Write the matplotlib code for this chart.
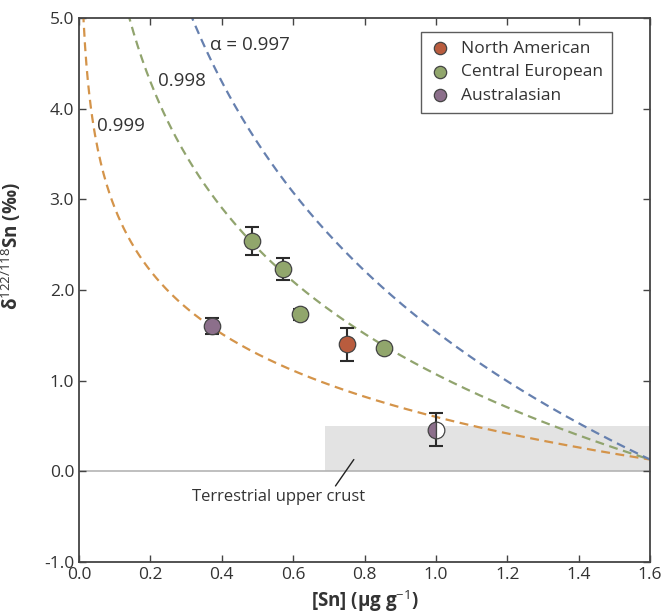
import numpy as np
import matplotlib.pyplot as plt
from matplotlib.patches import Rectangle

plt.rcParams['font.family'] = ['Open Sans', 'DejaVu Sans']
plt.rcParams['mathtext.fontset'] = 'custom'
plt.rcParams['mathtext.rm'] = 'Open Sans'
plt.rcParams['mathtext.bf'] = 'Open Sans:bold'

# Rayleigh model curves
alphas = [0.999, 0.998, 0.997]
alpha_labels = ['0.999', '0.998', 'α = 0.997']
curve_colors = ['#D4944A', '#91A46E', '#6680AF']
c0 = 1.6
d0 = 0.13

# samples
na_sn = [0.751]
na_d = [1.40]
na_err = [0.18]

ce_sn = [0.485, 0.572, 0.619, 0.855]
ce_d = [2.54, 2.23, 1.73, 1.36]
ce_err = [0.15, 0.12, 0.06, 0.03]

au_sn = [0.373]
au_d = [1.60]
au_err = [0.09]

mix_sn = [1.0]
mix_d = [0.46]
mix_err = [0.18]

crust_sn = [0.69, 1.6]
crust_d = [0.0, 0.5]

fig = plt.figure(figsize=(6.64, 6.15), dpi=100)
ax = fig.add_axes([0.119, 0.0862, 0.86, 0.8845])

ax.add_patch(Rectangle((crust_sn[0], crust_d[0]), crust_sn[1] - crust_sn[0],
                       crust_d[1] - crust_d[0], color='#E3E3E3', lw=0, zorder=0))
ax.axhline(0, color='#B4B4B4', lw=1.2, zorder=1)

c = np.linspace(0.005, c0, 400)
for a, col in zip(alphas, curve_colors):
    d = (d0 + 1000) * (c / c0) ** (a - 1) - 1000
    ax.plot(c, d, ls=(0, (4, 2.5)), color=col, lw=1.6, zorder=2)

lab_pos = [(0.05, 3.81), (0.22, 4.3), (0.367, 4.7)]
for (x, y), t in zip(lab_pos, alpha_labels):
    ax.text(x, y, t, fontsize=13.5, color='#333333', ha='left', va='center')

ek = dict(fmt='none', ecolor='#2b2b2b', elinewidth=1.5, capsize=5, capthick=1.5, zorder=3)
ax.errorbar(na_sn, na_d, yerr=na_err, **ek)
ax.errorbar(ce_sn, ce_d, yerr=ce_err, **ek)
ax.errorbar(au_sn, au_d, yerr=au_err, **ek)
ax.errorbar(mix_sn, mix_d, yerr=mix_err, **ek)

mk = dict(s=140, edgecolors='#444444', linewidths=0.9, zorder=4)
ax.scatter(na_sn, na_d, c='#B95C3E', label='North American', **mk)
ax.scatter(ce_sn, ce_d, c='#91A66C', label='Central European', **mk)
ax.scatter(au_sn, au_d, c='#8C6F8B', label='Australasian', **mk)
ax.plot(mix_sn, mix_d, 'o', ms=12, mfc='#8C6F8B', mfcalt='white', fillstyle='left',
        mec='#444444', mew=0.9, zorder=4)

ax.annotate('Terrestrial upper crust', xy=(0.77, 0.13), xytext=(0.558, -0.28),
            fontsize=12, color='#333333', ha='center', va='center',
            arrowprops=dict(arrowstyle='-', color='#222222', lw=1.0, shrinkA=0, shrinkB=0,
                            relpos=(0.82, 1.0)))

ax.set_xlim(0, 1.6)
ax.set_ylim(-1, 5)
ax.set_xticks(np.arange(0, 1.61, 0.2))
ax.set_yticks(np.arange(-1, 5.1, 1))
ax.xaxis.set_major_formatter(plt.FormatStrFormatter('%.1f'))
ax.yaxis.set_major_formatter(plt.FormatStrFormatter('%.1f'))
ax.tick_params(direction='in', top=True, right=True, length=5, width=1, labelsize=12.5,
               colors='#444444', labelcolor='#333333')
for s in ax.spines.values():
    s.set_color('#444444')
    s.set_linewidth(1.3)

ax.set_xlabel('[Sn] (μg g$^{\\mathrm{-1}}$)', fontsize=13.5, fontweight='bold', color='#333333', labelpad=4)
ax.set_ylabel('δ$^{\\mathrm{122/118}}$Sn (‰)', fontsize=13.5, fontweight='bold', color='#333333')
ax.yaxis.set_label_coords(-0.098, 0.58)

leg = ax.legend(loc='upper right', bbox_to_anchor=(0.948, 0.99), fontsize=12.5, frameon=True,
                fancybox=False, edgecolor='#333333', handletextpad=0.6, borderpad=0.5,
                labelspacing=0.42, handlelength=1.2, scatterpoints=1, markerscale=0.75)
leg.get_frame().set_linewidth(1.0)
for t in leg.get_texts():
    t.set_color('#333333')

fig.savefig('out.png', dpi=100)
